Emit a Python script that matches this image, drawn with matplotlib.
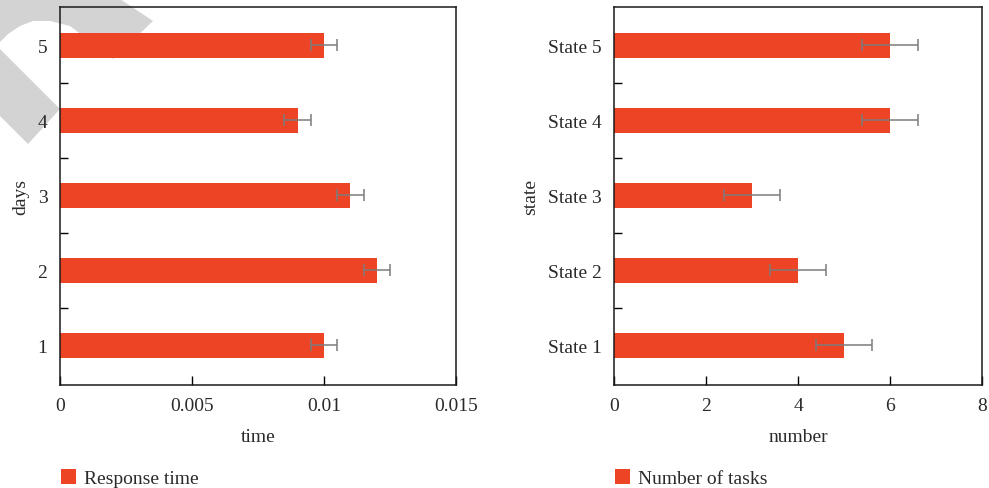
import matplotlib
matplotlib.use("Agg")
import matplotlib.pyplot as plt
from matplotlib.patches import Polygon
from matplotlib.ticker import FixedLocator

# Response time per day
days = ["1", "2", "3", "4", "5"]
response_time = [0.010, 0.012, 0.011, 0.009, 0.010]
response_err = [0.0005, 0.0005, 0.0005, 0.0005, 0.0005]

# Number of tasks per state
states = ["State 1", "State 2", "State 3", "State 4", "State 5"]
num_tasks = [5, 4, 3, 6, 6]
tasks_err = [0.6, 0.6, 0.6, 0.6, 0.6]

BAR = "#EE4426"
ERR = "#7c7c7c"
TXT = "#2a2a2a"

plt.rcParams["font.family"] = ["Liberation Serif", "DejaVu Serif"]
plt.rcParams["font.size"] = 14
plt.rcParams["text.color"] = TXT
plt.rcParams["axes.labelcolor"] = TXT
plt.rcParams["xtick.color"] = "black"
plt.rcParams["ytick.color"] = "black"
plt.rcParams["xtick.labelcolor"] = TXT
plt.rcParams["ytick.labelcolor"] = TXT

W, H = 989, 489
fig = plt.figure(figsize=(W / 100, H / 100), dpi=100)


def fx(px):
    return px / W


def fy(py):
    return 1 - py / H


# light grey logo mark in the upper-left corner, kept behind the axes
mark_top = [(0, 0), (120, 0), (153, 22), (113, 60), (70, 27), (50, 22),
            (33, 22), (20, 27), (8, 35), (0, 43)]
mark_band = [(0, 50), (60, 110), (28, 145), (0, 117)]
for shape in (mark_top, mark_band):
    fig.patches.append(Polygon([(fx(x), fy(y)) for x, y in shape],
                               closed=True, transform=fig.transFigure,
                               facecolor="#d3d3d3", edgecolor="none",
                               zorder=0))

ax1 = fig.add_axes([fx(60), fy(386), fx(456) - fx(60), fy(8) - fy(386)])
ax2 = fig.add_axes([fx(614), fy(386), fx(982) - fx(614), fy(8) - fy(386)])
for ax in (ax1, ax2):
    ax.set_zorder(2)


def style(ax, labels, values, errs, xmax, xticks, xticklabels, xlabel,
          ylabel, legend_label):
    ax.set_facecolor("none")
    pos = list(range(1, len(labels) + 1))
    bars = ax.barh(pos, values, height=0.333, color=BAR, label=legend_label,
                   zorder=2)
    ax.errorbar(values, pos, xerr=errs, fmt="none", ecolor=ERR,
                elinewidth=1.1, capsize=4.3, capthick=1.1, zorder=3)
    ax.set_xlim(0, xmax)
    ax.set_ylim(0.47, 5.51)
    ax.set_yticks(pos)
    ax.set_yticklabels(labels)
    ax.yaxis.set_minor_locator(FixedLocator([1.5, 2.5, 3.5, 4.5]))
    ax.tick_params(axis="y", which="major", length=0, pad=9)
    ax.tick_params(axis="y", which="minor", direction="in", length=6,
                   width=1.0)
    ax.set_xticks(xticks)
    ax.set_xticklabels(xticklabels)
    ax.tick_params(axis="x", which="major", direction="in", length=6.5,
                   width=1.0, pad=8.5)
    for s in ax.spines.values():
        s.set_linewidth(1.1)
        s.set_color("#1a1a1a")
    ax.set_xlabel(xlabel, labelpad=10)
    ax.set_ylabel(ylabel, labelpad=6)
    return bars


b1 = style(ax1, days, response_time, response_err, 0.015,
           [0, 0.005, 0.01, 0.015], ["0", "0.005", "0.01", "0.015"],
           "time", "days", "Response time")
b2 = style(ax2, states, num_tasks, tasks_err, 8,
           [0, 2, 4, 6, 8], ["0", "2", "4", "6", "8"],
           "number", "state", "Number of tasks")

for ax, bars, x0 in ((ax1, b1, 60), (ax2, b2, 614)):
    fig.legend(handles=[bars], labels=[bars.get_label()],
               loc="lower left", bbox_to_anchor=(fx(x0 - 3), fy(492)),
               bbox_transform=fig.transFigure, frameon=False,
               handlelength=0.8, handleheight=0.8, handletextpad=0.4,
               borderpad=0.2, borderaxespad=0)

fig.savefig("out.png", dpi=100)
